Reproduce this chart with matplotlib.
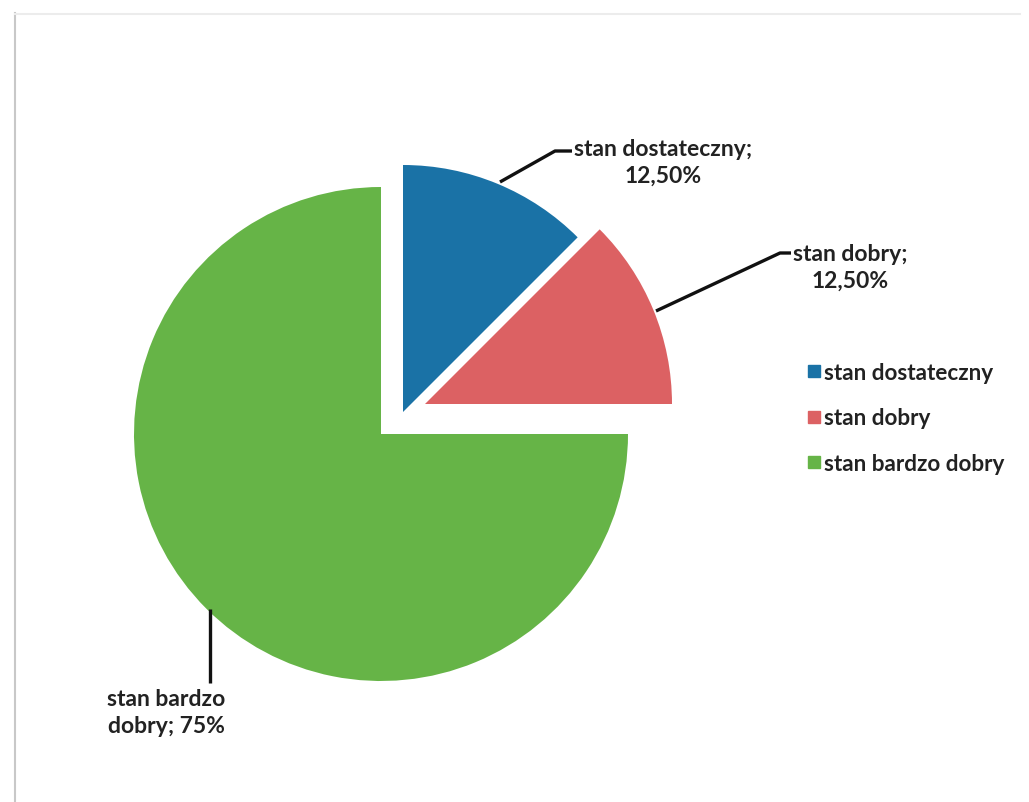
import numpy as np
import matplotlib.pyplot as plt
from matplotlib.lines import Line2D

# dane
kategorie = ['stan dostateczny', 'stan dobry', 'stan bardzo dobry']
udzialy = [12.5, 12.5, 75.0]
etykiety = ['stan dostateczny;\n12,50%', 'stan dobry;\n12,50%', 'stan bardzo\ndobry; 75%']
kolory = ['#1a72a6', '#dc6163', '#66b447']

plt.rcParams['font.family'] = ['Lato', 'DejaVu Sans']

W, H = 1029, 803
R = 247.0  # promien w pikselach
cx, cy = 381, 435

fig = plt.figure(figsize=(W / 100, H / 100), dpi=100)
ax = fig.add_axes([0, 0, 1, 1])
ax.axis('off')

def px(x, y):
    # piksele obrazu -> wspolrzedne danych
    return (x - cx) / R, (cy - y) / R

wedges, _ = ax.pie(udzialy, colors=kolory, startangle=90, counterclock=False,
                   radius=1.0, wedgeprops=dict(linewidth=0))
ax.set_aspect('auto')
ax.set_xlim(-cx / R, (W - cx) / R)
ax.set_ylim(-(H - cy) / R, cy / R)

# odsuniecie wycinkow
przesuniecia = [(22, -22), (44, -30), (0, 0)]
for w, (dx, dy) in zip(wedges, przesuniecia):
    w.set_center((dx / R, -dy / R))

# etykiety danych z liniami odniesienia
tekst = dict(fontsize=16.5, fontweight='bold', color='#222222', ha='center',
             va='center', linespacing=1.35)
ax.text(*px(663, 163), etykiety[0], **tekst)
ax.text(*px(850, 268), etykiety[1], **tekst)
ax.text(*px(166, 713), etykiety[2], **tekst)

linie = [
    [(500, 183), (555, 152), (572, 152)],
    [(656, 312), (780, 254), (791, 254)],
    [(210, 610), (210, 684)],
]
for pts in linie:
    xs, ys = zip(*[px(x, y) for x, y in pts])
    ax.plot(xs, ys, color='#111111', lw=2.4, solid_capstyle='butt')

# legenda
uchwyty = [Line2D([0], [0], marker='s', ls='', markersize=9,
                  markerfacecolor=k, markeredgecolor=k) for k in kolory]
leg = fig.legend(uchwyty, kategorie, loc='center left',
                 bbox_to_anchor=(788 / W, 1 - 419 / H), frameon=False,
                 handlelength=0.5, handletextpad=0.2, labelspacing=1.1,
                 prop=dict(family=['Lato', 'DejaVu Sans'], weight='bold', size=16.2))
for t in leg.get_texts():
    t.set_color('#222222')

# ramka wykresu
fig.add_artist(Line2D([15 / W, 15 / W], [1 - 14 / H, 0], color='#c8c8c8', lw=1.5))
fig.add_artist(Line2D([15 / W, 1020 / W], [1 - 15 / H, 1 - 15 / H], color='#ececec', lw=1.5))

fig.savefig('out.png', dpi=100)
